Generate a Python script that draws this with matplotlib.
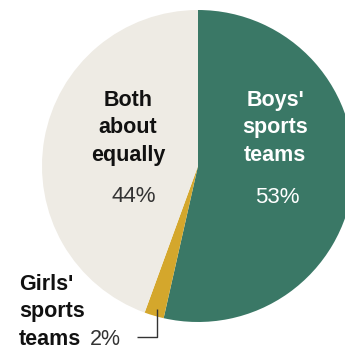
import matplotlib
matplotlib.use("Agg")
import matplotlib.pyplot as plt

# share of answers, clockwise from 12 o'clock
labels = ["Boys'\nsports\nteams", "Girls'\nsports\nteams", "Both\nabout\nequally"]
values = [53, 2, 44]
colors = ["#3a7866", "#d4a72c", "#eeebe4"]

W, H = 345, 350


def main():
    fig = plt.figure(figsize=(W / 100, H / 100), dpi=100)
    ax = fig.add_axes([0, 0, 1, 1])

    ax.pie(values, colors=colors, startangle=90, counterclock=False,
           center=(198, H - 166), radius=156, frame=True,
           wedgeprops={"linewidth": 0})
    ax.set_xlim(0, W)
    ax.set_ylim(0, H)
    ax.set_aspect("equal")
    ax.axis("off")

    font = "Liberation Sans"
    # va=baseline on multi-line text pins the last line
    lbl = dict(family=font, fontsize=15.5, fontweight="bold", linespacing=1.42,
               va="baseline", ha="center", multialignment="center")
    pct = dict(family=font, fontsize=16, va="baseline", ha="center")

    # boys
    ax.text(275, H - 161, labels[0], color="white", **lbl)
    ax.text(277, H - 203, f"{values[0]}%", color="white", **pct)
    # both
    ax.text(128, H - 161, labels[2], color="#111111", **lbl)
    ax.text(134, H - 202, f"{values[2]}%", color="#333333", **pct)
    # girls, outside with a leader line
    lbl_g = dict(lbl, ha="left", multialignment="left")
    ax.text(19, H - 345, labels[1], color="#111111", **lbl_g)
    ax.text(90, H - 345, f"{values[1]}%", color="#333333", family=font,
            fontsize=15.5, va="baseline", ha="left")
    ax.plot([157, 157, 137], [H - 309, H - 337, H - 337], color="#333333",
            linewidth=1, solid_capstyle="butt")

    fig.savefig("out.png", dpi=100)


if __name__ == "__main__":
    main()
